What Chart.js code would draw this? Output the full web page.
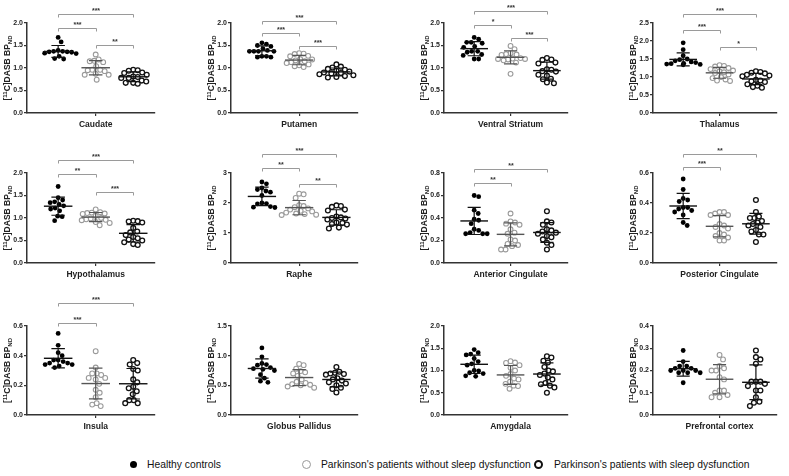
<!DOCTYPE html>
<html>
<head>
<meta charset="utf-8">
<script src="https://cdn.jsdelivr.net/npm/chart.js@4.4.1/dist/chart.umd.min.js"></script>
<style>
  body { margin: 0; background: #fff; width: 789px; height: 476px; position: relative; overflow: hidden;
         font-family: "Liberation Sans", Arial, sans-serif; }
  .panel { position: absolute; }
  .legend-item { position: absolute; top: 458px; font-size: 10.3px; color: #111; white-space: nowrap; line-height: 14px; }
  .mark { position: absolute; border-radius: 50%; box-sizing: border-box; }
</style>
</head>
<body>
<div id="panels"></div>
<div id="legend">
  <span class="mark" style="left:130px;top:461px;width:7px;height:7px;background:#000"></span>
  <span class="legend-item" style="left:147px">Healthy controls</span>
  <span class="mark" style="left:302px;top:460px;width:9px;height:9px;border:1.5px solid #999"></span>
  <span class="legend-item" style="left:321px">Parkinson's patients without sleep dysfunction</span>
  <span class="mark" style="left:534px;top:460px;width:9px;height:9px;border:2px solid #111"></span>
  <span class="legend-item" style="left:554px">Parkinson's patients with sleep dysfunction</span>
</div>
<script>
// ---- data ----
const regions = ["Caudate", "Putamen", "Ventral Striatum", "Thalamus",
  "Hypothalamus", "Raphe", "Anterior Cingulate", "Posterior Cingulate",
  "Insula", "Globus Pallidus", "Amygdala", "Prefrontal cortex"];

const yMax = [2, 2, 2, 2.5, 2, 3, 0.8, 0.6, 0.6, 1.5, 2, 0.4];
const yStep = [0.5, 0.5, 0.5, 0.5, 0.5, 1, 0.2, 0.2, 0.2, 0.5, 0.5, 0.1];
const yDecimals = [1, 1, 1, 1, 1, 0, 1, 1, 1, 1, 1, 1];

const healthyControls = [
  [1.68, 1.58, 1.39, 1.37, 1.37, 1.36, 1.36, 1.35, 1.33, 1.32, 1.26, 1.21, 1.20],
  [1.56, 1.53, 1.50, 1.48, 1.43, 1.37, 1.37, 1.37, 1.39, 1.37, 1.26, 1.24, 1.24, 1.26],
  [1.68, 1.64, 1.57, 1.57, 1.55, 1.46, 1.48, 1.35, 1.37, 1.37, 1.28, 1.30, 1.20, 1.20],
  [1.95, 1.76, 1.59, 1.50, 1.48, 1.45, 1.42, 1.40, 1.38, 1.37, 1.36, 1.35, 1.34],
  [1.70, 1.45, 1.40, 1.36, 1.34, 1.30, 1.27, 1.22, 1.20, 1.16, 1.04, 1.03, 0.94],
  [2.70, 2.64, 2.50, 2.45, 2.40, 2.36, 2.25, 2.00, 1.98, 1.97, 1.88, 1.86, 1.85],
  [0.60, 0.59, 0.47, 0.44, 0.39, 0.38, 0.35, 0.30, 0.29, 0.27, 0.26, 0.26, 0.26],
  [0.56, 0.49, 0.43, 0.41, 0.42, 0.37, 0.36, 0.37, 0.35, 0.34, 0.32, 0.27, 0.25],
  [0.55, 0.47, 0.42, 0.40, 0.37, 0.37, 0.36, 0.35, 0.35, 0.34, 0.34, 0.33, 0.32],
  [1.13, 0.98, 0.87, 0.85, 0.84, 0.80, 0.78, 0.77, 0.75, 0.68, 0.62, 0.57, 0.55],
  [1.47, 1.40, 1.37, 1.35, 1.27, 1.20, 1.15, 1.12, 1.00, 0.99, 0.95, 0.93, 0.88, 0.87],
  [0.29, 0.24, 0.22, 0.22, 0.21, 0.21, 0.20, 0.20, 0.20, 0.19, 0.19, 0.19, 0.145]
];

const pdWithoutSleep = [
  [1.30, 1.19, 1.16, 1.15, 1.13, 1.04, 0.96, 0.96, 0.95, 0.93, 0.85, 0.85, 0.87, 0.74],
  [1.33, 1.32, 1.31, 1.27, 1.26, 1.20, 1.19, 1.17, 1.15, 1.13, 1.11, 1.08, 1.06, 1.04, 1.02],
  [1.49, 1.42, 1.33, 1.31, 1.30, 1.29, 1.22, 1.21, 1.20, 1.20, 1.19, 1.17, 1.12, 0.87],
  [1.33, 1.31, 1.29, 1.25, 1.22, 1.18, 1.16, 1.13, 1.11, 1.07, 1.00, 0.97, 0.93, 0.90, 0.89],
  [1.19, 1.13, 1.12, 1.11, 1.10, 1.09, 1.05, 1.00, 0.99, 0.97, 0.96, 0.95, 0.91, 0.89, 0.84],
  [2.31, 2.29, 2.17, 1.93, 1.90, 1.86, 1.82, 1.78, 1.74, 1.72, 1.68, 1.65, 1.63, 1.61, 1.60],
  [0.44, 0.37, 0.36, 0.35, 0.34, 0.30, 0.27, 0.26, 0.21, 0.20, 0.17, 0.16, 0.15, 0.12, 0.12],
  [0.34, 0.34, 0.33, 0.32, 0.32, 0.26, 0.25, 0.24, 0.23, 0.20, 0.19, 0.18, 0.17, 0.15, 0.15],
  [0.43, 0.32, 0.28, 0.28, 0.27, 0.25, 0.25, 0.24, 0.21, 0.17, 0.15, 0.12, 0.08, 0.07, 0.06],
  [0.86, 0.84, 0.78, 0.74, 0.72, 0.70, 0.66, 0.60, 0.56, 0.54, 0.52, 0.51, 0.50, 0.48, 0.46],
  [1.21, 1.18, 1.17, 1.12, 1.06, 1.00, 0.92, 0.88, 0.82, 0.80, 0.75, 0.70, 0.66, 0.65, 0.59],
  [0.27, 0.25, 0.22, 0.21, 0.20, 0.20, 0.17, 0.16, 0.11, 0.11, 0.10, 0.09, 0.08, 0.08]
];

const pdWithSleep = [
  [0.96, 0.95, 0.94, 0.90, 0.89, 0.85, 0.81, 0.80, 0.78, 0.78, 0.72, 0.70, 0.67, 0.67, 0.65],
  [1.08, 1.03, 1.01, 0.98, 0.96, 0.94, 0.92, 0.90, 0.89, 0.88, 0.86, 0.84, 0.82, 0.80, 0.79],
  [1.22, 1.19, 1.18, 1.12, 1.10, 0.97, 0.96, 0.93, 0.92, 0.85, 0.83, 0.76, 0.75, 0.68, 0.66],
  [1.16, 1.14, 1.12, 1.10, 1.06, 1.04, 1.02, 0.92, 0.90, 0.88, 0.86, 0.80, 0.76, 0.72, 0.70],
  [0.94, 0.93, 0.92, 0.90, 0.78, 0.70, 0.68, 0.62, 0.58, 0.55, 0.52, 0.50, 0.46, 0.42, 0.40],
  [1.92, 1.90, 1.87, 1.78, 1.75, 1.55, 1.52, 1.50, 1.48, 1.45, 1.35, 1.33, 1.30, 1.28, 1.18, 1.15],
  [0.46, 0.37, 0.36, 0.34, 0.30, 0.29, 0.28, 0.27, 0.26, 0.24, 0.23, 0.21, 0.18, 0.16, 0.12],
  [0.42, 0.34, 0.31, 0.30, 0.30, 0.28, 0.27, 0.26, 0.25, 0.24, 0.22, 0.21, 0.19, 0.19, 0.14],
  [0.37, 0.35, 0.34, 0.31, 0.30, 0.24, 0.22, 0.19, 0.18, 0.16, 0.14, 0.10, 0.10, 0.08, 0.08],
  [0.81, 0.73, 0.71, 0.70, 0.69, 0.68, 0.62, 0.60, 0.58, 0.55, 0.53, 0.50, 0.46, 0.44, 0.38],
  [1.32, 1.29, 1.22, 1.18, 1.08, 1.00, 0.98, 0.93, 0.90, 0.84, 0.80, 0.72, 0.69, 0.66, 0.62, 0.50],
  [0.29, 0.26, 0.25, 0.23, 0.15, 0.15, 0.15, 0.14, 0.13, 0.11, 0.11, 0.08, 0.06, 0.055, 0.04]
];

// [from group, to group, label, bracket height in axis units]
const significance = [
  [[1, 3, "***", 2.2], [1, 2, "***", 1.89], [2, 3, "**", 1.51]],
  [[1, 3, "***", 2.04], [1, 2, "***", 1.78], [2, 3, "***", 1.49]],
  [[1, 3, "***", 2.27], [1, 2, "*", 1.96], [2, 3, "***", 1.67]],
  [[1, 3, "***", 2.75], [1, 2, "***", 2.31], [2, 3, "*", 1.83]],
  [[1, 3, "***", 2.29], [1, 2, "**", 1.98], [2, 3, "***", 1.58]],
  [[1, 3, "***", 3.63], [1, 2, "**", 3.17], [2, 3, "**", 2.63]],
  [[1, 3, "**", 0.836], [1, 2, "**", 0.71]],
  [[1, 3, "**", 0.727], [1, 2, "***", 0.64]],
  [[1, 3, "***", 0.753], [1, 2, "***", 0.62]],
  [], [], []
];

// ---- layout ----
const FONT = "'Liberation Sans', Arial, sans-serif";
const axisLeft = [27, 231, 444, 653];
const plotWidth = [128, 127, 124, 124];
const rowTop = [23, 173, 326];
const plotHeight = [90, 90, 89];
const PAD_TOP = 30, X_AXIS_H = 25, Y_AXIS_W = 27, PAD_RIGHT = 10;
const X_MIN = 0.17, X_MAX = 3.58;

const groupStyles = [
  { fill: "#000", stroke: "#000", width: 0, bar: "#111" },
  { fill: "#fff", stroke: "#9a9a9a", width: 1.1, bar: "#555" },
  { fill: "#fff", stroke: "#111", width: 1.3, bar: "#111" }
];

function mean(a) { return a.reduce((s, v) => s + v, 0) / a.length; }
function sd(a) {
  const m = mean(a);
  return Math.sqrt(a.reduce((s, v) => s + (v - m) * (v - m), 0) / (a.length - 1));
}

// spread the dots sideways so they don't overlap; vertical neighbours push
// harder than horizontal ones so the groups fan out like a scatter dot plot
function spreadOffsets(values, pxPerY, pxPerX, gapX, gapY) {
  const order = values.map((v, k) => k).sort((a, b) => values[b] - values[a]);
  const placed = [];
  const offs = new Array(values.length).fill(0);
  order.forEach((k) => {
    const y = values[k] * pxPerY;
    let chosen = 0;
    for (let step = 0; step < 80; step++) {
      const x = (step % 2 ? 1 : -1) * Math.ceil(step / 2) * 0.5;
      const free = placed.every((p) => {
        const dx = (p.x - x) / gapX, dy = (p.y - y) / gapY;
        return dx * dx + dy * dy >= 1;
      });
      if (free) { chosen = x; break; }
    }
    placed.push({ x: chosen, y: y });
    offs[k] = chosen / pxPerX;
  });
  return offs;
}

const errorBarPlugin = {
  id: "errorBars",
  afterDatasetsDraw(chart) {
    const { ctx } = chart;
    const xs = chart.scales.x, ys = chart.scales.y;
    chart.data.datasets.forEach((ds, g) => {
      const vals = ds.data.map((p) => p.y);
      const m = mean(vals), s = sd(vals);
      const c = g + 1;
      ctx.save();
      ctx.strokeStyle = groupStyles[g].bar;
      ctx.lineWidth = 1.4;
      ctx.beginPath();
      ctx.moveTo(xs.getPixelForValue(c - 0.38), ys.getPixelForValue(m));
      ctx.lineTo(xs.getPixelForValue(c + 0.38), ys.getPixelForValue(m));
      ctx.stroke();
      ctx.lineWidth = 1.2;
      ctx.beginPath();
      ctx.moveTo(xs.getPixelForValue(c), ys.getPixelForValue(m - s));
      ctx.lineTo(xs.getPixelForValue(c), ys.getPixelForValue(m + s));
      [m - s, m + s].forEach((v) => {
        ctx.moveTo(xs.getPixelForValue(c - 0.18), ys.getPixelForValue(v));
        ctx.lineTo(xs.getPixelForValue(c + 0.18), ys.getPixelForValue(v));
      });
      ctx.stroke();
      ctx.restore();
    });
  }
};

const bracketPlugin = {
  id: "brackets",
  afterDraw(chart, args, opts) {
    const { ctx } = chart;
    const xs = chart.scales.x, ys = chart.scales.y;
    (opts.items || []).forEach(([a, b, label, level]) => {
      const x1 = Math.round(xs.getPixelForValue(a)) + 0.5;
      const x2 = Math.round(xs.getPixelForValue(b)) + 0.5;
      const y = Math.round(ys.getPixelForValue(level)) + 0.5;
      ctx.save();
      ctx.strokeStyle = "#9a9a9a";
      ctx.lineWidth = 1;
      ctx.beginPath();
      ctx.moveTo(x1, y + 3);
      ctx.lineTo(x1, y);
      ctx.lineTo(x2, y);
      ctx.lineTo(x2, y + 3);
      ctx.stroke();
      ctx.fillStyle = "#333";
      ctx.font = "bold 7px " + FONT;
      ctx.textAlign = "center";
      ctx.textBaseline = "alphabetic";
      ctx.fillText(label, (x1 + x2) / 2, y - 1.5);
      ctx.restore();
    });
  }
};

const yTitlePlugin = {
  id: "yTitle",
  afterDraw(chart) {
    const { ctx, chartArea } = chart;
    const parts = [["[", 8.5, 0], ["11", 6, -3], ["C]DASB BP", 8.5, 0], ["ND", 6, 2.5]];
    ctx.save();
    ctx.translate(chartArea.left - 19, (chartArea.top + chartArea.bottom) / 2);
    ctx.rotate(-Math.PI / 2);
    ctx.fillStyle = "#222";
    ctx.textBaseline = "middle";
    let total = 0;
    parts.forEach((p) => {
      ctx.font = "bold " + p[1] + "px " + FONT;
      total += ctx.measureText(p[0]).width;
    });
    let x = -total / 2;
    parts.forEach((p) => {
      ctx.font = "bold " + p[1] + "px " + FONT;
      ctx.fillText(p[0], x, p[2]);
      x += ctx.measureText(p[0]).width;
    });
    ctx.restore();
  }
};

function buildPanel(i) {
  const col = i % 4, row = Math.floor(i / 4);
  const w = Y_AXIS_W + plotWidth[col] + PAD_RIGHT;
  const h = PAD_TOP + plotHeight[row] + X_AXIS_H;
  const holder = document.createElement("div");
  holder.className = "panel";
  holder.style.left = (axisLeft[col] - Y_AXIS_W) + "px";
  holder.style.top = (rowTop[row] - PAD_TOP) + "px";
  holder.style.width = w + "px";
  holder.style.height = h + "px";
  const canvas = document.createElement("canvas");
  canvas.width = w;
  canvas.height = h;
  holder.appendChild(canvas);
  document.getElementById("panels").appendChild(holder);

  const pxPerY = plotHeight[row] / yMax[i];
  const pxPerX = plotWidth[col] / (X_MAX - X_MIN);
  const groups = [healthyControls[i], pdWithoutSleep[i], pdWithSleep[i]];

  const datasets = groups.map((vals, g) => {
    const offs = spreadOffsets(vals, pxPerY, pxPerX, 4.5, 6);
    return {
      data: vals.map((v, k) => ({ x: g + 1 + offs[k], y: v })),
      pointRadius: 2.4,
      pointBackgroundColor: groupStyles[g].fill,
      pointBorderColor: groupStyles[g].stroke,
      pointBorderWidth: groupStyles[g].width,
      pointHoverRadius: 2.4
    };
  });

  new Chart(canvas, {
    type: "scatter",
    data: { datasets: datasets },
    options: {
      responsive: false,
      animation: false,
      events: [],
      layout: { padding: { top: PAD_TOP, right: PAD_RIGHT, left: 0, bottom: 0 } },
      plugins: {
        legend: { display: false },
        tooltip: { enabled: false },
        brackets: { items: significance[i] }
      },
      scales: {
        x: {
          type: "linear",
          min: X_MIN,
          max: X_MAX,
          afterBuildTicks: (s) => { s.ticks = [{ value: 2 }]; },
          afterFit: (s) => { s.height = X_AXIS_H; },
          ticks: {
            callback: () => regions[i],
            font: { family: FONT, size: 8.5, weight: "bold" },
            color: "#222",
            padding: 4,
            maxRotation: 0,
            autoSkip: false
          },
          grid: { drawOnChartArea: false, drawTicks: true, tickLength: 3, color: "#333", lineWidth: 1.2 },
          border: { color: "#333", width: 1.5 }
        },
        y: {
          min: 0,
          max: yMax[i],
          afterFit: (s) => { s.width = Y_AXIS_W; },
          ticks: {
            stepSize: yStep[i],
            callback: (v) => v.toFixed(yDecimals[i]),
            font: { family: FONT, size: 7, weight: "bold" },
            color: "#222",
            padding: 1
          },
          grid: { drawOnChartArea: false, drawTicks: true, tickLength: 3, color: "#333", lineWidth: 1.2 },
          border: { color: "#333", width: 1.5 }
        }
      }
    },
    plugins: [errorBarPlugin, bracketPlugin, yTitlePlugin]
  });
}

regions.forEach((r, i) => buildPanel(i));
</script>
</body>
</html>
